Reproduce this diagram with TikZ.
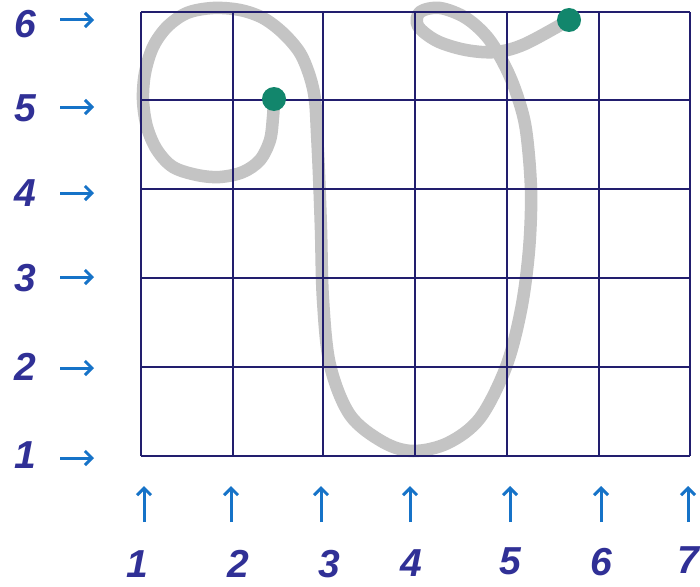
\documentclass[tikz,border=0pt]{standalone}
\usepackage{fontspec}
\setmainfont{Liberation Sans}
\usetikzlibrary{arrows.meta}
\definecolor{gridnavy}{RGB}{34,30,110}
\definecolor{labelblue}{RGB}{48,48,150}
\definecolor{arrowblue}{RGB}{22,115,200}
\definecolor{curvegray}{RGB}{196,196,196}
\definecolor{dotgreen}{RGB}{18,134,108}
\begin{document}
\begin{tikzpicture}[x=1pt,y=-1pt,
  lab/.style={text=labelblue, font=\fontsize{39}{39}\selectfont\bfseries\itshape, inner sep=0pt},
  axarrow/.style={draw=arrowblue, line width=3pt, -{Straight Barb[length=7pt,width=14pt,line width=3pt]}},
  gridline/.style={draw=gridnavy, line width=2.6pt},
  penstroke/.style={draw=curvegray, line width=12.5pt, line cap=round, line join=round},
  dotmark/.style={circle, fill=dotgreen, minimum size=24pt, inner sep=0pt}]
\useasboundingbox (0,0) rectangle (700,586);
\fill[white] (0,0) rectangle (700,586);

% pen stroke
\draw[penstroke] plot[smooth, tension=0.55] coordinates {
 (274,99) (273,117) (270,140) (260,160) (243,172) (220,177) (197,175)
 (173,167) (157,150) (147,127) (143,100) (145,73) (153,47) (167,27)
 (187,13) (213,8) (240,10) (263,18) (283,33) (300,53) (310,77) (315,100)
 (317,133) (319,175) (321,230) (323,300) (330,365) (350,415) (383,442) (413,451)
 (448,443) (480,418) (506,367) (521,310) (529,250) (531,190) (526,130)
 (517,95) (505,66) (488,38) (466,18) (440,8) (420,12) (418,26) (437,41)
 (466,50) (496,52) (525,44) (569,20)};

% grid
\foreach \x in {141,233,323,415,507,599,690}
  \draw[gridline] (\x,12) -- (\x,456);
\foreach \y in {12,100,189,278,367,456}
  \draw[gridline] (141,\y) -- (690,\y);

% dots
\node[dotmark] (start) at (274,99) {};
\node[dotmark] (finish) at (569,20) {};

% row labels and arrows
\foreach \n/\ty/\ay in {6/24/20,5/108/107,4/193/193,3/278/277,2/367/368,1/455/458}{
  \node[lab] (r\n) at (25,\ty) {\n};
  \coordinate (ra\n) at (60,\ay);
  \coordinate (rb\n) at (94,\ay);
  \draw[axarrow] (ra\n) -- (rb\n);
}

% column labels and arrows
\foreach \n/\tx/\ty/\ax in {1/137/564/144,2/238/564/231,3/329/564/321,4/411/563/410,5/510/561/510,6/601/562/601,7/688/560/688}{
  \node[lab] (c\n) at (\tx,\ty) {\n};
  \coordinate (ca\n) at (\ax,522);
  \coordinate (cb\n) at (\ax,486);
  \draw[axarrow] (ca\n) -- (cb\n);
}
\end{tikzpicture}
\end{document}
